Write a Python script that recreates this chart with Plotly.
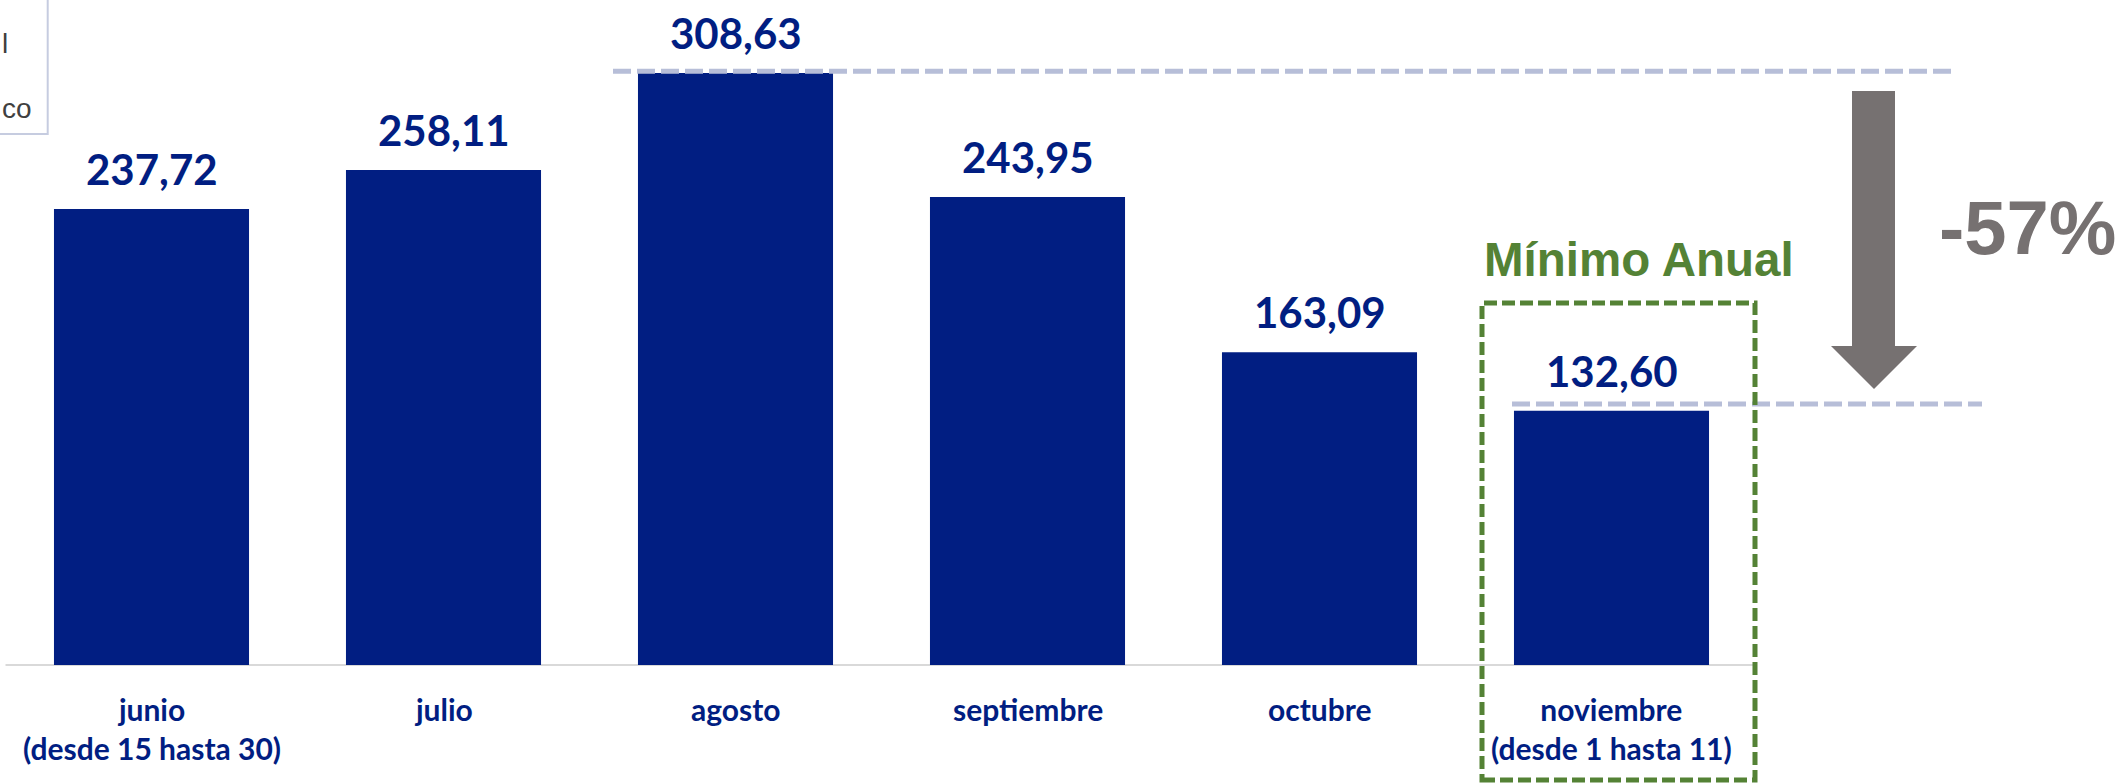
import plotly.graph_objects as go

# ---------------- data ----------------
months = ["junio", "julio", "agosto", "septiembre", "octubre", "noviembre"]
subtitles = ["(desde 15 hasta 30)", "", "", "", "", "(desde 1 hasta 11)"]
values = [237.72, 258.11, 308.63, 243.95, 163.09, 132.60]
change_label = "-57%"
highlight_label = "Mínimo Anual"
legend_fragments = ["l", "co"]

# ---------------- style ----------------
NAVY = "#011E82"
GREEN = "#548235"
GREY = "#767171"
DASHC = "#B7BED8"
LABEL_FONT = "Lato"
W, H = 2121, 783

# pixel <-> data mapping (plot area covers the whole canvas)
CAT_W = 292.0   # px per category
X0 = 151.5      # px centre of first category
BASE = 665.0    # px of value 0
K = 1.918       # px per unit


def X(px):
    return (px - X0) / CAT_W


def Y(py):
    return (BASE - py) / K


xs = list(range(len(months)))

fig = go.Figure(
    go.Bar(
        x=xs,
        y=values,
        width=0.668,
        marker=dict(color=NAVY, line=dict(width=0)),
        hoverinfo="skip",
    )
)

shapes = []
# baseline axis
shapes.append(dict(type="line", xref="x", yref="y", x0=-0.5, x1=X(1755), y0=0, y1=0,
                   line=dict(color="#D9D9D9", width=2), layer="below"))
# reference dashed lines at max and min
shapes.append(dict(type="line", xref="x", yref="y", x0=X(613), x1=X(1951),
                   y0=max(values) + 1.0, y1=max(values) + 1.0,
                   line=dict(color=DASHC, width=5, dash="18px,6px"), layer="above"))
shapes.append(dict(type="line", xref="x", yref="y", x0=X(1512), x1=X(1982),
                   y0=min(values) + 3.5, y1=min(values) + 3.5,
                   line=dict(color=DASHC, width=5, dash="18px,6px"), layer="above"))
# down arrow
arrow = [(1852, 91), (1895, 91), (1895, 346), (1917, 346), (1874, 389), (1831, 346), (1852, 346)]
path = "M " + " L ".join(f"{X(a)},{Y(b)}" for a, b in arrow) + " Z"
shapes.append(dict(type="path", xref="x", yref="y", path=path, fillcolor=GREY,
                   line=dict(width=0)))
# green highlight box
shapes.append(dict(type="rect", xref="x", yref="y", x0=X(1482), x1=X(1755), y0=Y(780), y1=Y(303),
                   line=dict(color=GREEN, width=5, dash="13px,5px"), fillcolor="rgba(0,0,0,0)"))
# partial legend box at top-left
shapes.append(dict(type="rect", xref="x", yref="y", x0=X(-10), x1=X(47.7), y0=Y(134), y1=Y(-10),
                   line=dict(color="#C6CCE0", width=2), fillcolor="rgba(0,0,0,0)"))

annotations = []
for i, v in enumerate(values):
    annotations.append(dict(
        x=xs[i], y=v, xref="x", yref="y", yshift=40, yanchor="middle", xanchor="center",
        text=f"{v:.2f}".replace(".", ","), showarrow=False,
        font=dict(family=LABEL_FONT, size=42, color=NAVY, weight="bold")))
    txt = months[i] + (f"<br>{subtitles[i]}" if subtitles[i] else "")
    annotations.append(dict(
        x=xs[i], y=0, xref="x", yref="y", yshift=-24, yanchor="top", xanchor="center",
        text=txt, showarrow=False,
        font=dict(family=LABEL_FONT, size=30, color=NAVY, weight="bold")))

annotations.append(dict(x=X(1639), y=Y(259), xref="x", yref="y", xanchor="center", yanchor="middle",
                        text=highlight_label, showarrow=False,
                        font=dict(family="Liberation Sans", size=47.5, color=GREEN, weight="bold")))
annotations.append(dict(x=X(2027), y=Y(227), xref="x", yref="y", xanchor="center", yanchor="middle",
                        text=change_label, showarrow=False,
                        font=dict(family="Liberation Sans", size=76, color=GREY, weight="bold")))
annotations.append(dict(x=X(0), y=Y(43), xref="x", yref="y", xanchor="left", yanchor="middle",
                        text=legend_fragments[0], showarrow=False,
                        font=dict(family="Liberation Sans", size=28, color="#404040")))
annotations.append(dict(x=X(0), y=Y(108), xref="x", yref="y", xanchor="left", yanchor="middle",
                        text=legend_fragments[1], showarrow=False,
                        font=dict(family="Liberation Sans", size=28, color="#404040")))

fig.update_layout(
    width=W, height=H,
    margin=dict(l=0, r=0, t=0, b=0, pad=0),
    paper_bgcolor="white", plot_bgcolor="white",
    showlegend=False,
    xaxis=dict(range=[X(0), X(W)], visible=False, fixedrange=True),
    yaxis=dict(range=[Y(H), Y(0)], visible=False, fixedrange=True),
    shapes=shapes,
    annotations=annotations,
)

fig.write_html(
    "out.html",
    config={"displayModeBar": False},
    post_script="document.body.style.margin='0px';document.body.style.overflow='hidden';",
)
